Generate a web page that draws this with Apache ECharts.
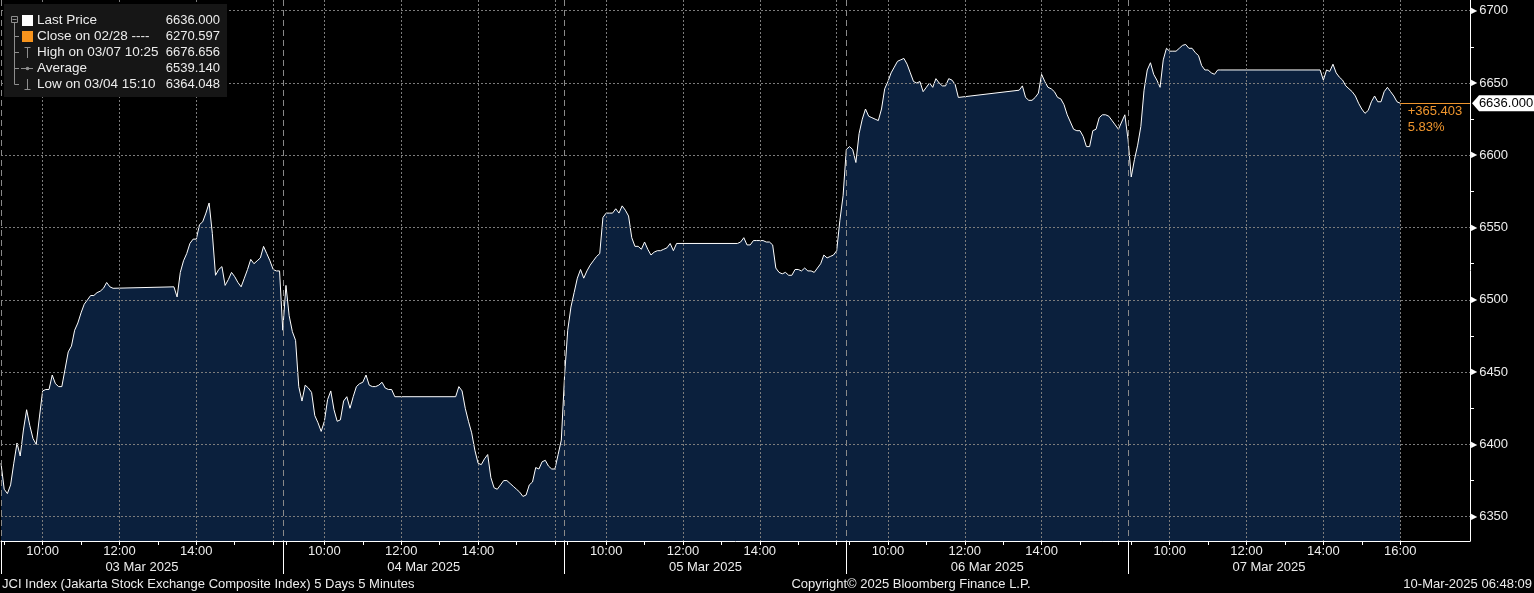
<!DOCTYPE html>
<html><head><meta charset="utf-8">
<script src="https://cdn.jsdelivr.net/npm/echarts@6/dist/echarts.min.js"></script>
<style>html,body{margin:0;padding:0;background:#000;}#c{width:1534px;height:593px;}</style>
</head><body><div id="c"></div>
<script>
// ---------------- data ----------------
const dayLabels = ['03 Mar 2025', '04 Mar 2025', '05 Mar 2025', '06 Mar 2025', '07 Mar 2025'];
const amStart = ['08:55', '08:55', '08:55', '08:55', '08:55'];
const pmStart = ['13:25', '13:25', '13:25', '13:25', '13:55'];

const day1AM = [6387, 6369, 6366, 6372, 6387, 6401, 6392, 6410, 6424, 6413, 6404, 6400, 6419, 6437, 6438, 6438, 6448, 6442, 6440, 6440, 6452, 6464, 6468, 6479, 6484, 6491, 6497, 6500, 6503, 6503, 6505, 6506, 6508, 6512, 6509, 6508];
const day1PM = [6509, 6502, 6519, 6527, 6532, 6539, 6542, 6542, 6552, 6554, 6560, 6567, 6546, 6517, 6521, 6523, 6510, 6514, 6519, 6516, 6512, 6509, 6515, 6521, 6528, 6525, 6527, 6529, 6537, 6532, 6527, 6521, 6520, 6520];
const day2AM = [6479, 6510, 6489, 6478, 6472, 6440, 6430, 6441, 6439, 6436, 6420, 6415, 6409, 6416, 6431, 6437, 6424, 6416, 6417, 6430, 6433, 6425, 6433, 6440, 6442, 6443, 6448, 6441, 6440, 6440, 6441, 6443, 6439, 6438, 6438, 6433];
const day2PM = [6433, 6440, 6437, 6425, 6416, 6408, 6396, 6387, 6386, 6390, 6393, 6377, 6370, 6369, 6372, 6375, 6375, 6373, 6371, 6369, 6367, 6364.05, 6365, 6372, 6374, 6384, 6383, 6388, 6389, 6385, 6383, 6383, 6393, 6403];
const day3AM = [6447, 6479, 6495, 6505, 6515, 6521, 6515, 6520, 6524, 6527, 6530, 6532, 6557, 6560, 6560, 6560, 6563, 6560, 6565, 6562, 6558, 6543, 6537, 6537, 6535, 6540, 6535, 6531, 6533, 6534, 6534, 6535, 6536, 6539, 6534, 6539];
const day3PM = [6539, 6540, 6543, 6538, 6538, 6541, 6541, 6541, 6541, 6540, 6540, 6538, 6522, 6519, 6518, 6519, 6517, 6517, 6521, 6521, 6520, 6522, 6520, 6520, 6519, 6522, 6525, 6531, 6529, 6530, 6531, 6534, 6555, 6572];
const day4AM = [6604, 6606, 6604, 6595, 6615, 6625, 6632, 6627, 6626, 6625, 6624, 6632, 6646, 6651, 6657, 6661, 6665, 6666, 6667, 6663, 6657, 6651, 6650, 6651, 6644, 6647, 6650, 6647, 6653, 6650, 6648, 6648, 6653, 6652, 6649, 6640];
const day4PM = [6645, 6648, 6640, 6638, 6638, 6640, 6643, 6656, 6651, 6647, 6646, 6644, 6640, 6639, 6635, 6628, 6623, 6618, 6617, 6617, 6613, 6606, 6606, 6617, 6618, 6626, 6628, 6628, 6627, 6624, 6621, 6618, 6623, 6628];
const day5AM = [6611, 6585, 6597, 6607, 6620, 6645, 6659, 6664, 6656, 6652, 6647, 6666, 6674, 6672, 6672, 6672, 6674, 6676, 6676.66, 6674, 6674, 6671, 6669, 6662, 6659, 6659, 6657, 6656, 6659, 6659];
const day5PM = [6659, 6652, 6659, 6658, 6663, 6657, 6654, 6652, 6648, 6646, 6644, 6641, 6636, 6632, 6629, 6631, 6637, 6641, 6637, 6637, 6644, 6647, 6644, 6641, 6637, 6636];

const yTickLabels = [6350, 6400, 6450, 6500, 6550, 6600, 6650, 6700];
const yMinorTicks = [6375, 6425, 6475, 6525, 6575, 6625, 6675];
const timeTickLabels = ['10:00', '12:00', '14:00'];
const lastDayExtraLabel = '16:00';

const lastPrice = 6636.000;
const lastPriceText = '6636.000';
const changeText = '+365.403';
const changePctText = '5.83%';

const legendLabels = ['Last Price', 'Close on 02/28 ----', 'High on 03/07 10:25', 'Average', 'Low on 03/04 15:10'];
const legendValues = ['6636.000', '6270.597', '6676.656', '6539.140', '6364.048'];

const footerLeft = 'JCI Index (Jakarta Stock Exchange Composite Index) 5 Days 5 Minutes';
const footerMid = 'Copyright\u00A9 2025 Bloomberg Finance L.P.';
const footerRight = '10-Mar-2025 06:48:09';

// ---------------- helpers ----------------
const FONT = 'Liberation Sans';
const TXT = '#ececec';
const ORANGE = '#f0962e';
const DAY_LEN = 440;          // minutes shown per day (08:55 -> 16:15)
const OPEN_MIN = 8 * 60 + 55;
const X_MAX = 2294;
const Y_MIN = 6333.2, Y_MAX = 6707.4;

function hm(s) { const p = s.split(':').map(Number); return p[0] * 60 + p[1]; }
function toX(d, minutes) { return d * DAY_LEN + minutes - OPEN_MIN; }
function pad(n) { return (n < 10 ? '0' : '') + n; }

const amSeries = [day1AM, day2AM, day3AM, day4AM, day5AM];
const pmSeries = [day1PM, day2PM, day3PM, day4PM, day5PM];
const lineData = [];
for (let d = 0; d < 5; d++) {
  amSeries[d].forEach((v, i) => lineData.push([toX(d, hm(amStart[d]) + 5 * i), v]));
  pmSeries[d].forEach((v, i) => lineData.push([toX(d, hm(pmStart[d]) + 5 * i), v]));
}
const lastX = lineData[lineData.length - 1][0];

const hourTicks = [], gridTicks = [], timeLabelVals = [], dayStarts = [], dayCenters = [];
for (let d = 0; d < 5; d++) {
  for (let h = 9; h <= 16; h++) hourTicks.push(toX(d, h * 60));
  [10, 12, 14, 16].forEach(h => gridTicks.push(toX(d, h * 60)));
  timeTickLabels.forEach(t => timeLabelVals.push(toX(d, hm(t))));
  dayStarts.push(d * DAY_LEN);
  dayCenters.push(d * DAY_LEN + DAY_LEN / 2);
}
timeLabelVals.push(toX(4, hm(lastDayExtraLabel)));

function timeFmt(v) {
  const m = (((Math.round(v) % DAY_LEN) + DAY_LEN) % DAY_LEN) + OPEN_MIN;
  return pad(Math.floor(m / 60)) + ':' + pad(m % 60);
}

const dotted = { color: '#7c7c7c', width: 1, type: [2, 2] };
const dashed = { color: '#8a8a8a', width: 1, type: [6, 4] };

const chart = echarts.init(document.getElementById('c'), null, { renderer: 'canvas' });

const legendRows = [20.5, 36.5, 52.5, 68.5, 84.5];
const GREY = '#8e8e8e';
const graphic = [
  { type: 'rect', z: 100, shape: { x: 4, y: 4, width: 223, height: 93 }, style: { fill: '#161616' } },
  { type: 'rect', z: 101, shape: { x: 11.5, y: 16.5, width: 6, height: 6 }, style: { fill: 'none', stroke: GREY, lineWidth: 1 } },
  { type: 'line', z: 101, shape: { x1: 12.5, y1: 19.5, x2: 16.5, y2: 19.5 }, style: { stroke: GREY, lineWidth: 1 } },
  { type: 'line', z: 101, shape: { x1: 14.5, y1: 23, x2: 14.5, y2: 84.5 }, style: { stroke: GREY, lineWidth: 1 } },
  { type: 'line', z: 101, shape: { x1: 14.5, y1: 36.5, x2: 19, y2: 36.5 }, style: { stroke: GREY, lineWidth: 1 } },
  { type: 'line', z: 101, shape: { x1: 14.5, y1: 52.5, x2: 19, y2: 52.5 }, style: { stroke: GREY, lineWidth: 1 } },
  { type: 'line', z: 101, shape: { x1: 14.5, y1: 68.5, x2: 19, y2: 68.5 }, style: { stroke: GREY, lineWidth: 1 } },
  { type: 'line', z: 101, shape: { x1: 14.5, y1: 84.5, x2: 19, y2: 84.5 }, style: { stroke: GREY, lineWidth: 1 } },
  { type: 'rect', z: 101, shape: { x: 22, y: 15, width: 11, height: 11 }, style: { fill: '#ffffff' } },
  { type: 'rect', z: 101, shape: { x: 22, y: 31, width: 11, height: 11 }, style: { fill: '#f7941d' } },
  { type: 'line', z: 101, shape: { x1: 27.5, y1: 47, x2: 27.5, y2: 58 }, style: { stroke: GREY, lineWidth: 1 } },
  { type: 'line', z: 101, shape: { x1: 24.5, y1: 47.5, x2: 30.5, y2: 47.5 }, style: { stroke: GREY, lineWidth: 1 } },
  { type: 'line', z: 101, shape: { x1: 21, y1: 68.5, x2: 33, y2: 68.5 }, style: { stroke: GREY, lineWidth: 1 } },
  { type: 'circle', z: 101, shape: { cx: 27.5, cy: 68.5, r: 1.8 }, style: { fill: GREY } },
  { type: 'line', z: 101, shape: { x1: 27.5, y1: 79, x2: 27.5, y2: 90 }, style: { stroke: GREY, lineWidth: 1 } },
  { type: 'line', z: 101, shape: { x1: 24.5, y1: 89.5, x2: 30.5, y2: 89.5 }, style: { stroke: GREY, lineWidth: 1 } }
];
legendLabels.forEach((t, i) => {
  graphic.push({ type: 'text', z: 102, x: 37, y: legendRows[i], style: { text: t, fill: TXT, font: '13.5px "' + FONT + '"', textVerticalAlign: 'middle', textAlign: 'left' } });
  graphic.push({ type: 'text', z: 102, x: 220, y: legendRows[i], style: { text: legendValues[i], fill: TXT, font: '13px "' + FONT + '"', textVerticalAlign: 'middle', textAlign: 'right' } });
});
graphic.push({ type: 'text', z: 102, x: 2, y: 584, style: { text: footerLeft, fill: TXT, font: '13px "' + FONT + '"', textVerticalAlign: 'middle', textAlign: 'left' } });
graphic.push({ type: 'text', z: 102, x: 911, y: 584, style: { text: footerMid, fill: TXT, font: '13px "' + FONT + '"', textVerticalAlign: 'middle', textAlign: 'center' } });
graphic.push({ type: 'text', z: 102, x: 1532, y: 584, style: { text: footerRight, fill: TXT, font: '13px "' + FONT + '"', textVerticalAlign: 'middle', textAlign: 'right' } });

const baseX = { type: 'value', min: 0, max: X_MAX, position: 'bottom', gridIndex: 0, z: 3 };

const option = {
  backgroundColor: '#000000',
  animation: false,
  textStyle: { fontFamily: FONT },
  grid: { left: 1, right: 64, top: 0, bottom: 52, containLabel: false, outerBoundsMode: 'none' },
  graphic: graphic,
  xAxis: [
    Object.assign({}, baseX, {
      axisLine: { show: true, onZero: false, lineStyle: { color: '#ffffff', width: 1 } },
      axisTick: { show: true, customValues: hourTicks, length: 4, lineStyle: { color: '#ffffff' } },
      axisLabel: { show: true, customValues: timeLabelVals, formatter: timeFmt, color: TXT, fontSize: 13, fontFamily: FONT, margin: 4 },
      splitLine: { show: false }
    }),
    Object.assign({}, baseX, {
      axisLine: { show: false, onZero: false },
      axisTick: { show: false, customValues: gridTicks },
      axisLabel: { show: false },
      splitLine: { show: true, lineStyle: dotted }
    }),
    Object.assign({}, baseX, {
      axisLine: { show: false, onZero: false },
      axisTick: { show: true, customValues: dayStarts, length: 33, lineStyle: { color: '#ffffff' } },
      axisLabel: { show: true, customValues: dayCenters, formatter: v => dayLabels[Math.round((v - DAY_LEN / 2) / DAY_LEN)], color: TXT, fontSize: 13, fontFamily: FONT, margin: 20 },
      splitLine: { show: true, lineStyle: dashed }
    })
  ],
  yAxis: [
    {
      type: 'value', position: 'right', min: Y_MIN, max: Y_MAX, z: 3,
      axisLine: { show: true, onZero: false, lineStyle: { color: '#ffffff', width: 1 } },
      axisTick: { show: false, customValues: yTickLabels },
      axisLabel: {
        show: true, customValues: yTickLabels, margin: 1,
        formatter: v => '{t|\u25B6}{v|' + v + '}',
        rich: {
          t: { fontSize: 8, color: '#ffffff', fontFamily: 'DejaVu Sans' },
          v: { fontSize: 13, color: TXT, fontFamily: FONT, padding: [0, 0, 0, 2] }
        }
      },
      splitLine: { show: true, lineStyle: dotted }
    },
    {
      type: 'value', position: 'right', min: Y_MIN, max: Y_MAX, z: 3,
      axisLine: { show: false, onZero: false },
      axisTick: { show: true, customValues: yMinorTicks, length: 4, lineStyle: { color: '#ffffff' } },
      axisLabel: { show: false },
      splitLine: { show: false }
    }
  ],
  series: [{
    type: 'line',
    xAxisIndex: 0, yAxisIndex: 0,
    data: lineData,
    showSymbol: false,
    symbol: 'none',
    z: 2,
    lineStyle: { color: '#ffffff', width: 1 },
    areaStyle: { color: '#0b203d', opacity: 1 },
    markLine: {
      silent: true, symbol: ['none', 'none'], animation: false,
      label: { show: false },
      lineStyle: { color: ORANGE, width: 1, type: 'solid' },
      data: [[{ coord: [lastX, lastPrice] }, { coord: [X_MAX, lastPrice] }]]
    },
    markPoint: {
      silent: true, animation: false,
      data: [
        {
          coord: [X_MAX, lastPrice],
          symbol: 'path://M0,8 L7,0 L62,0 L62,16 L7,16 Z',
          symbolSize: [62, 16], symbolKeepAspect: false, symbolOffset: [33, 0],
          itemStyle: { color: '#ffffff' },
          label: { show: true, position: 'inside', offset: [3, 0], formatter: lastPriceText, color: '#000000', fontSize: 13, fontFamily: FONT }
        },
        {
          coord: [lastX, lastPrice],
          symbol: 'rect', symbolSize: 1,
          itemStyle: { color: 'rgba(0,0,0,0)' },
          label: { show: true, position: [8, 1], align: 'left', verticalAlign: 'top', formatter: changeText + '\n' + changePctText, color: ORANGE, fontSize: 13, lineHeight: 16, fontFamily: FONT }
        }
      ]
    }
  }]
};
chart.setOption(option);
</script>
</body></html>
